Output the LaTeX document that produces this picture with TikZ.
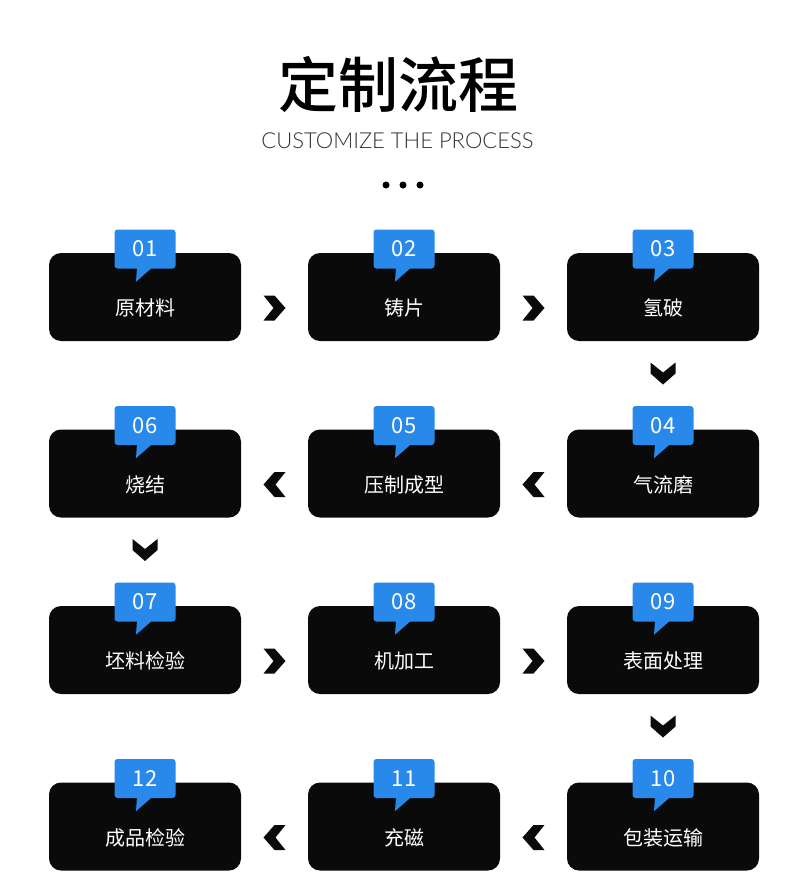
\documentclass[tikz,border=0pt]{standalone}
\usepackage{fontspec}
\newfontfamily\cjk{Noto Sans CJK SC}
\newfontfamily\cjkbold{Noto Sans CJK SC Medium}
\newfontfamily\latinlight{Lato Light}
\usetikzlibrary{calc}
\definecolor{tagblue}{RGB}{41,137,235}
\definecolor{boxblack}{RGB}{10,10,10}
\tikzset{
  procbox/.style={fill=boxblack, rounded corners=12pt, minimum width=192pt, minimum height=88pt, inner sep=0pt},
  proctext/.style={text=white, inner sep=0pt, font=\cjk\fontsize{20}{24}\selectfont},
  numtag/.style={fill=tagblue, rounded corners=3pt, minimum width=61pt, minimum height=39pt, inner sep=0pt, text=white, font=\cjk\fontsize{22}{26}\selectfont},
  chevron/.pic={\fill[boxblack] (-11,-12.5) -- (0,-12.5) -- (11,0) -- (0,12.5) -- (-11,12.5) -- (-1,0) -- cycle;}
}
\begin{document}
\begin{tikzpicture}[x=1pt,y=-1pt]
\useasboundingbox[fill=white] (0,0) rectangle (790,894);

\node (title) at (398,84) {\cjkbold\fontsize{60}{62}\selectfont 定制流程};
\node[text=black!80] (subtitle) at (397.5,141) {\latinlight\fontsize{22}{26}\selectfont CUSTOMIZE THE PROCESS};
\fill (386,185) circle (3.5) (403,185) circle (3.5) (420,185) circle (3.5);

% row 1
\node[procbox] (b1) at (145,297) {};
\node[procbox] (b2) at (404,297) {};
\node[procbox] (b3) at (663,297) {};
\node[numtag] (t1) at (145,249) {01};
\node[numtag] (t2) at (404,249) {02};
\node[numtag] (t3) at (663,249) {03};
\node[proctext] (l1) at (145,308) {原材料};
\node[proctext] (l2) at (404,308) {铸片};
\node[proctext] (l3) at (663,308) {氢破};

% row 2
\node[procbox] (b6) at (145,473.5) {};
\node[procbox] (b5) at (404,473.5) {};
\node[procbox] (b4) at (663,473.5) {};
\node[numtag] (t6) at (145,425.5) {06};
\node[numtag] (t5) at (404,425.5) {05};
\node[numtag] (t4) at (663,425.5) {04};
\node[proctext] (l6) at (145,484.5) {烧结};
\node[proctext] (l5) at (404,484.5) {压制成型};
\node[proctext] (l4) at (663,484.5) {气流磨};

% row 3
\node[procbox] (b7) at (145,650) {};
\node[procbox] (b8) at (404,650) {};
\node[procbox] (b9) at (663,650) {};
\node[numtag] (t7) at (145,602) {07};
\node[numtag] (t8) at (404,602) {08};
\node[numtag] (t9) at (663,602) {09};
\node[proctext] (l7) at (145,661) {坯料检验};
\node[proctext] (l8) at (404,661) {机加工};
\node[proctext] (l9) at (663,661) {表面处理};

% row 4
\node[procbox] (b12) at (145,826.5) {};
\node[procbox] (b11) at (404,826.5) {};
\node[procbox] (b10) at (663,826.5) {};
\node[numtag] (t12) at (145,778.5) {12};
\node[numtag] (t11) at (404,778.5) {11};
\node[numtag] (t10) at (663,778.5) {10};
\node[proctext] (l12) at (145,837.5) {成品检验};
\node[proctext] (l11) at (404,837.5) {充磁};
\node[proctext] (l10) at (663,837.5) {包装运输};

% tag pointers
\foreach \n in {1,...,12}
  \fill[tagblue] ($(t\n.south)+(-8,-1)$) -- ($(t\n.south)+(7,-1)$) -- ($(t\n.south)+(-9,13)$) -- cycle;

% chevrons between steps
\pic at ($(l1)!0.5!(l2)$) {chevron};
\pic at ($(l2)!0.5!(l3)$) {chevron};
\pic[rotate=-90] at ($(b3.south)!0.5!(t4.north)$) {chevron};
\pic[rotate=180] at ($(l4)!0.5!(l5)$) {chevron};
\pic[rotate=180] at ($(l5)!0.5!(l6)$) {chevron};
\pic[rotate=-90] at ($(b6.south)!0.5!(t7.north)$) {chevron};
\pic at ($(l7)!0.5!(l8)$) {chevron};
\pic at ($(l8)!0.5!(l9)$) {chevron};
\pic[rotate=-90] at ($(b9.south)!0.5!(t10.north)$) {chevron};
\pic[rotate=180] at ($(l10)!0.5!(l11)$) {chevron};
\pic[rotate=180] at ($(l11)!0.5!(l12)$) {chevron};
\end{tikzpicture}
\end{document}
